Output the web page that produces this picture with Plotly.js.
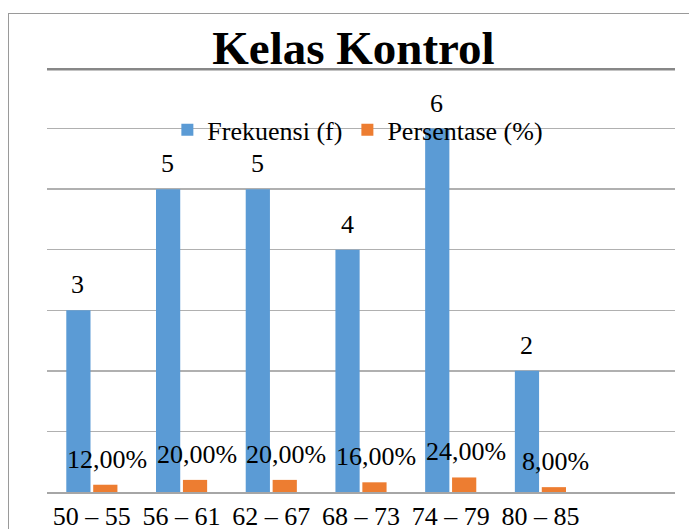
<!DOCTYPE html>
<html>
<head>
<meta charset="utf-8">
<script src="https://cdn.plot.ly/plotly-3.0.1.min.js"></script>
<style>
  html, body { margin: 0; padding: 0; background: #fff; }
  #wrap { position: relative; width: 689px; height: 529px; overflow: hidden; }
  #chart { position: absolute; left: 0; top: 0; width: 689px; height: 529px; }
  #frame { position: absolute; left: 8px; top: 13px; width: 700px; height: 540px;
           border-left: 1px solid #9a9a9a; border-top: 1px solid #9a9a9a; pointer-events: none; }
</style>
</head>
<body>
<div id="wrap">
  <div id="chart"></div>
  <div id="frame"></div>
</div>
<script>
// ---- data ----
const categories = ["50 – 55", "56 – 61", "62 – 67", "68 – 73", "74 – 79", "80 – 85"];
const frekuensi = [3, 5, 5, 4, 6, 2];
const persentase = [0.12, 0.20, 0.20, 0.16, 0.24, 0.08];
const seriesNames = ["Frekuensi (f)", "Persentase (%)"];
const titleText = "Kelas Kontrol";
const yMax = 7;

const FONT = "Liberation Serif";
const BLUE = "#5b9bd5";
const ORANGE = "#ed7d31";

function pct(v) { return (v * 100).toFixed(2).replace('.', ',') + '%'; }

const traces = [
  { type: 'bar', name: seriesNames[0], x: categories, y: frekuensi,
    marker: { color: BLUE }, hoverinfo: 'none' },
  { type: 'bar', name: seriesNames[1], x: categories, y: persentase,
    marker: { color: ORANGE }, hoverinfo: 'none' }
];

const annotations = [];
categories.forEach((c, i) => {
  annotations.push({ x: c, y: frekuensi[i], xref: 'x', yref: 'y', text: String(frekuensi[i]),
    showarrow: false, xshift: -14, yshift: 9, yanchor: 'bottom', xanchor: 'center',
    font: { family: FONT, size: 26, color: '#000' } });
  annotations.push({ x: c, y: persentase[i], xref: 'x', yref: 'y', text: pct(persentase[i]),
    showarrow: false, xshift: 15, yshift: 9, yanchor: 'bottom', xanchor: 'center',
    font: { family: FONT, size: 26, color: '#000' } });
});

const layout = {
  width: 689, height: 529,
  margin: { l: 47, r: 14, t: 68, b: 37, pad: 0 },
  paper_bgcolor: '#fff', plot_bgcolor: '#fff',
  font: { family: FONT, size: 26, color: '#000' },
  title: { text: '<b>' + titleText + '</b>', x: 0.513, xref: 'container', xanchor: 'center',
           y: 0.91, yref: 'container', yanchor: 'middle',
           font: { family: FONT, size: 47, color: '#000' } },
  barmode: 'group', bargap: 0.4, bargroupgap: 0.1,
  showlegend: true,
  legend: { orientation: 'h', x: 0.495, xanchor: 'center', y: 0.854, yanchor: 'middle',
            bgcolor: 'rgba(0,0,0,0)', font: { family: FONT, size: 26, color: '#000' },
            itemwidth: 30, tracegroupgap: 0 },
  xaxis: { type: 'category', range: [-0.5, categories.length + 0.5], showgrid: false,
           showline: true, linecolor: '#a6a6a6', linewidth: 1.5, ticks: '', ticklen: 0,
           tickfont: { family: FONT, size: 26, color: '#000' }, fixedrange: true },
  yaxis: { range: [0, yMax], dtick: 1, showgrid: true, gridcolor: '#b0b0b0', gridwidth: 1.5,
           zeroline: false, showticklabels: false, ticks: '', fixedrange: true },
  shapes: [
    { type: 'line', xref: 'paper', yref: 'y', x0: 0, x1: 1, y0: yMax, y1: yMax,
      line: { color: '#878787', width: 5 } }
  ],
  annotations: annotations
};

Plotly.newPlot('chart', traces, layout, { displayModeBar: false, staticPlot: true });
</script>
</body>
</html>
